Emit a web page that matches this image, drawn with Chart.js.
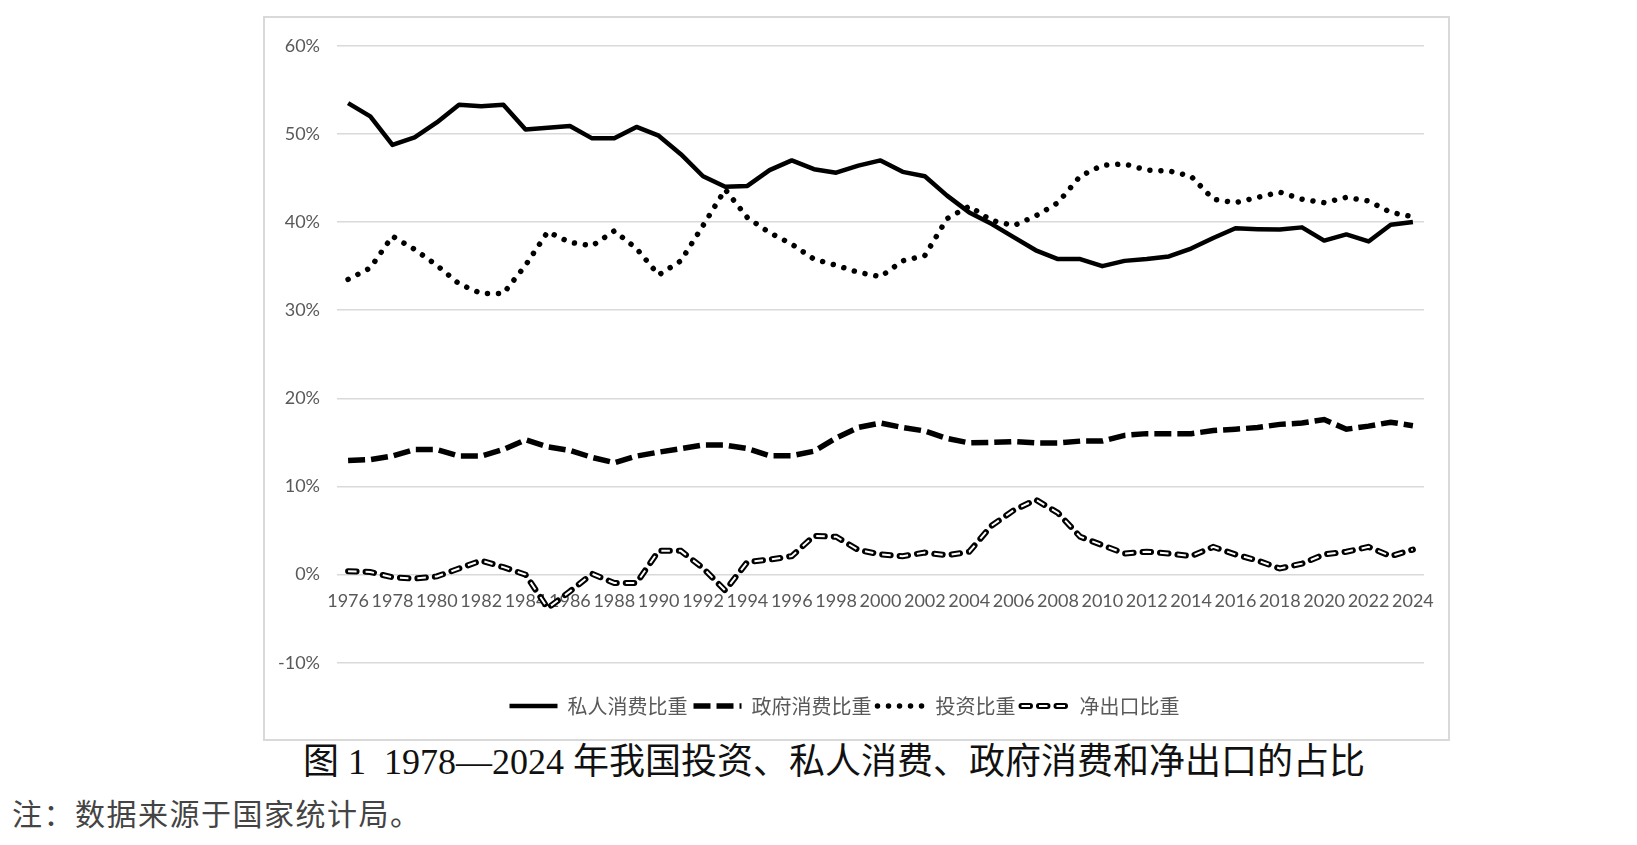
<!DOCTYPE html>
<html>
<head>
<meta charset="utf-8">
<script src="https://cdn.jsdelivr.net/npm/chart.js@4/dist/chart.umd.min.js"></script>
<style>
html, body { margin: 0; padding: 0; background: #fff; }
body { width: 1637px; height: 845px; position: relative; overflow: hidden; }
#box { position: absolute; left: 263px; top: 16px; width: 1187px; height: 725px;
       border: 2px solid #d9d9d9; box-sizing: border-box; }
#caption { position: absolute; left: 303px; top: 741px; font-size: 36px; line-height: 42px;
           font-family: "Liberation Serif", "Noto Sans CJK SC"; color: #111; white-space: pre; }
#note { position: absolute; left: 12px; top: 794px; font-size: 30px; line-height: 36px;
        letter-spacing: 1.5px; font-family: "Noto Sans CJK SC"; color: #444; white-space: pre; }
</style>
</head>
<body>
<div id="box"><canvas id="myChart"></canvas></div>
<div id="caption">图 1  1978—2024 年我国投资、私人消费、政府消费和净出口的占比</div>
<div id="note">注：数据来源于国家统计局。</div>
<script>
// years on the category axis
var years = [
  1976, 1977, 1978, 1979, 1980, 1981, 1982, 1983, 1984, 1985,
  1986, 1987, 1988, 1989, 1990, 1991, 1992, 1993, 1994, 1995,
  1996, 1997, 1998, 1999, 2000, 2001, 2002, 2003, 2004, 2005,
  2006, 2007, 2008, 2009, 2010, 2011, 2012, 2013, 2014, 2015,
  2016, 2017, 2018, 2019, 2020, 2021, 2022, 2023, 2024
];

// shares of GDP, in percent
var privateShare = [
  53.5, 52.0, 48.75, 49.6, 51.3, 53.3, 53.15, 53.3, 50.5, 50.7,
  50.9, 49.5, 49.5, 50.8, 49.8, 47.7, 45.2, 44.0, 44.1, 45.9,
  47.0, 46.0, 45.6, 46.4, 47.0, 45.7, 45.2, 43.0, 41.1, 39.8,
  38.3, 36.8, 35.8, 35.8, 35.0, 35.6, 35.8, 36.1, 37.0, 38.2,
  39.3, 39.2, 39.15, 39.4, 37.9, 38.6, 37.8, 39.7, 40.0
];
var govShare = [
  12.95, 13.05, 13.45, 14.2, 14.2, 13.45, 13.45, 14.2, 15.3, 14.5,
  14.1, 13.3, 12.7, 13.45, 13.9, 14.3, 14.7, 14.7, 14.3, 13.5,
  13.5, 14.0, 15.5, 16.7, 17.2, 16.7, 16.3, 15.45, 14.95, 15.0,
  15.1, 14.95, 14.95, 15.15, 15.15, 15.8, 16.0, 16.0, 16.0, 16.35,
  16.5, 16.7, 17.05, 17.2, 17.6, 16.5, 16.85, 17.3, 16.9
];
var investShare = [
  33.5, 34.8, 38.4, 36.9, 35.1, 33.0, 31.9, 31.9, 35.1, 38.9,
  37.7, 37.3, 39.0, 37.0, 34.0, 35.6, 39.6, 43.7, 40.5, 38.8,
  37.5, 35.8, 35.1, 34.3, 33.8, 35.6, 36.2, 40.4, 41.8, 40.2,
  39.6, 40.7, 42.2, 45.2, 46.45, 46.6, 45.9, 45.8, 45.2, 42.6,
  42.2, 42.8, 43.4, 42.6, 42.2, 42.8, 42.4, 41.1, 40.6
];
var netExportShare = [
  0.4, 0.3, -0.3, -0.45, -0.2, 0.7, 1.6, 0.85, 0.0, -3.8,
  -1.9, 0.1, -0.95, -0.95, 2.7, 2.7, 0.75, -1.8, 1.45, 1.7,
  2.1, 4.4, 4.3, 2.8, 2.3, 2.1, 2.5, 2.2, 2.6, 5.55,
  7.3, 8.5, 7.0, 4.3, 3.35, 2.4, 2.6, 2.4, 2.1, 3.15,
  2.3, 1.6, 0.7, 1.25, 2.3, 2.6, 3.15, 2.1, 2.85
];

var seriesNames = ['私人消费比重', '政府消费比重', '投资比重', '净出口比重'];

var tickColor = '#595959';
var gridColor = '#d9d9d9';
var legendFontSize = 20;
var legendLineWidth = 48;

Chart.defaults.font.family = 'Lato, "Noto Sans CJK SC", sans-serif';

//legend items take the dash pattern of their dataset
function legendLabels(chart){
  var items = Chart.defaults.plugins.legend.labels.generateLabels(chart);
  items.forEach(function(item){
    var ds = chart.data.datasets[item.datasetIndex];
    item.lineDash = ds.borderDash || [];
    item.lineCap = ds.borderCapStyle || 'butt';
    item.lineWidth = ds.borderWidth;
    item.strokeStyle = ds.borderColor;
  });
  return items;
}

//white core over the net export legend line, like the series itself
var hollowLegend = {
  id: 'hollowLegend',
  afterDraw: function(chart){
    var legend = chart.legend;
    if(!legend || !legend.legendHitBoxes) return;
    var inner = chart.data.datasets[4];
    legend.legendItems.forEach(function(item, i){
      if(item.datasetIndex !== 3) return;
      var box = legend.legendHitBoxes[i];
      var ctx = chart.ctx;
      var y = box.top + legendFontSize / 2;
      ctx.save();
      ctx.strokeStyle = inner.borderColor;
      ctx.lineWidth = inner.borderWidth;
      ctx.setLineDash(inner.borderDash);
      ctx.beginPath();
      ctx.moveTo(box.left, y);
      ctx.lineTo(box.left + legendLineWidth, y);
      ctx.stroke();
      ctx.restore();
    });
  }
};

var chart = new Chart(document.getElementById('myChart'), {
  type: 'line',
  data: {
    labels: years,
    datasets: [{
      label: seriesNames[0],
      data: privateShare,
      borderColor: '#000',
      borderWidth: 4.5,
      borderJoinStyle: 'round',
      pointRadius: 0,
      order: 1
    }, {
      label: seriesNames[1],
      data: govShare,
      borderColor: '#000',
      borderWidth: 5.5,
      borderDash: [17, 6],
      pointRadius: 0,
      order: 1
    }, {
      label: seriesNames[2],
      data: investShare,
      borderColor: '#000',
      borderWidth: 5.5,
      borderDash: [0.01, 11],
      borderCapStyle: 'round',
      pointRadius: 0,
      order: 1
    }, {
      label: seriesNames[3],
      data: netExportShare,
      borderColor: '#000',
      borderWidth: 6,
      borderDash: [8.5, 9],
      borderCapStyle: 'round',
      pointRadius: 0,
      order: 1
    }, {
      // white core drawn over the net export dashes (hollow look)
      label: 'inner',
      data: netExportShare,
      borderColor: '#fff',
      borderWidth: 2,
      borderDash: [8.5, 9],
      pointRadius: 0,
      order: 0
    }]
  },
  options: {
    responsive: true,
    maintainAspectRatio: false,
    animation: false,
    layout: { padding: { left: 0, right: 24, top: 25, bottom: 13 } },
    plugins: {
      tooltip: { enabled: false },
      legend: {
        position: 'bottom',
        title: { display: true, text: '', font: { size: 1 }, padding: { top: 26, bottom: 0 } },
        labels: {
          usePointStyle: true,
          pointStyle: 'line',
          pointStyleWidth: legendLineWidth,
          padding: 6,
          color: tickColor,
          font: { size: legendFontSize, family: '"Noto Sans CJK SC"' },
          generateLabels: legendLabels,
          filter: function(item){ return item.datasetIndex < 4; }
        }
      }
    },
    scales: {
      x: {
        position: { y: 0 },
        offset: true,
        grid: { display: false },
        border: { display: false },
        ticks: {
          autoSkip: false,
          maxRotation: 0,
          padding: 8,
          color: tickColor,
          font: { size: 18 },
          callback: function(val, i){
            return (years[i] - years[0]) % 2 === 0 ? String(years[i]) : '';
          }
        }
      },
      y: {
        min: -10,
        max: 60,
        afterFit: function(scale){ scale.width = 72; },
        grid: { color: gridColor, lineWidth: 1.5, drawTicks: false },
        border: { display: false },
        ticks: {
          stepSize: 10,
          padding: 17,
          color: tickColor,
          font: { size: 18 },
          callback: function(v){ return v + '%'; }
        }
      }
    }
  },
  plugins: [hollowLegend]
});
</script>
</body>
</html>
